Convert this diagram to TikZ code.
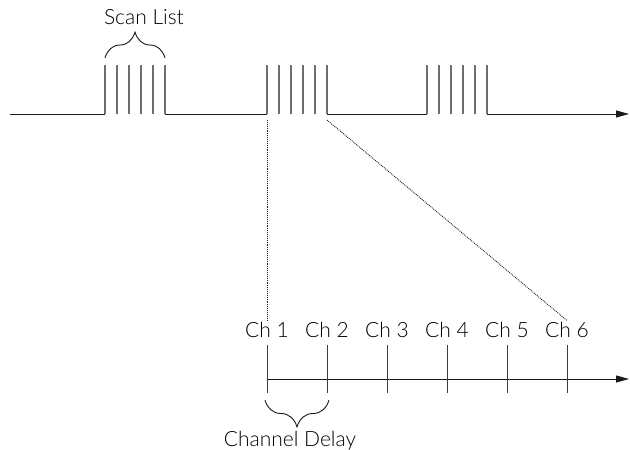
\documentclass[tikz,border=0pt]{standalone}
\usepackage{fontspec}
\setmainfont{Lato}[UprightFont=* Light]
\usetikzlibrary{positioning,arrows.meta,decorations.pathreplacing}
\definecolor{ink}{HTML}{1A1A1A}
\definecolor{pulse}{HTML}{6E6E6E}

\begin{document}
\begin{tikzpicture}[x=1pt, y=-1pt, >={Triangle[length=13pt,width=7pt]},
    font=\fontsize{21}{24}\selectfont,
    sig/.style={line width=1pt, ink},
    tickmark/.style={line width=0.9pt, ink!85},
    pulseline/.style={line width=1.1pt, pulse},
    guide/.style={line width=0.9pt, densely dotted, ink},
    brc/.style={decorate, decoration={brace, amplitude=#1}, line width=0.9pt, ink}]
  \useasboundingbox (0,0) rectangle (630,450);
  % signal line with three scans
  \draw[sig] (10,114) -- (105,114) (165,114) -- (267,114) (327,114) -- (427,114);
  \draw[sig, ->] (487,114) -- (629,114);
  \foreach \g in {105,267,427}
    \foreach \k in {0,...,5}
      \draw[pulseline] (\g+12*\k,114) -- (\g+12*\k,65);
  \draw[brc=26] (105,58) -- (165,58);
  \node[anchor=base] (scanlist) at (144,24) {Scan List};
  \coordinate (firstch) at (267,120);
  \coordinate (lastch) at (327,120);
  % channel time axis
  \draw[sig, ->] (267,379) -- (629,379);
  \foreach \i in {1,...,6} {
    \draw[tickmark] (207+60*\i,345) -- (207+60*\i,393);
    \node[anchor=base, inner sep=1pt] (ch\i) at (207+60*\i,337) {Ch \i};
  }
  \draw[guide] (firstch) -- (ch1.north);
  \draw[guide] (lastch) -- (ch6.north);
  \draw[brc=27] (329,400) -- (265,400);
  \node[anchor=base] (chdelay) at (290,446) {Channel Delay};
\end{tikzpicture}
\end{document}
